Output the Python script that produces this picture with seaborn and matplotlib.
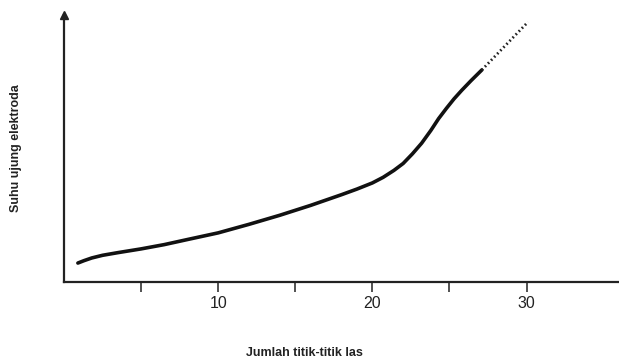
import matplotlib
matplotlib.use("Agg")
import matplotlib.pyplot as plt
import seaborn as sns
import pandas as pd

# Data (arbitrary temperature units, 0-100)
welds_solid = [0.9, 1.3, 1.8, 2.5, 3.5, 5, 6.5, 8, 10, 12, 14, 16, 18, 19, 20,
               20.7, 21.4, 22.0, 22.6, 23.2, 23.8, 24.3, 24.8, 25.3, 25.8, 26.4, 27.1]
temp_solid = [7.1, 8.0, 9.0, 10.0, 11.0, 12.4, 14.0, 15.9, 18.4, 21.6, 25.0, 28.7, 32.7, 34.8, 37.1,
              39.2, 41.8, 44.4, 48.0, 52.0, 56.8, 61.2, 65.0, 68.6, 71.8, 75.4, 79.4]
welds_dotted = [27.1, 30.1]
temp_dotted = [79.4, 97.4]
major_ticks = [10, 20, 30]
minor_ticks = [5, 15, 25]
xlabel = "Jumlah titik-titik las"
ylabel = "Suhu ujung elektroda"

sns.set_theme(style="white")
plt.rcParams["font.family"] = ["Liberation Sans", "DejaVu Sans"]

fig = plt.figure(figsize=(6.19, 3.62), dpi=100)
ax = fig.add_axes([64 / 619, 80 / 362, 555 / 619, 267 / 362])

df_s = pd.DataFrame({"x": welds_solid, "y": temp_solid})
df_d = pd.DataFrame({"x": welds_dotted, "y": temp_dotted})
sns.lineplot(data=df_s, x="x", y="y", ax=ax, color="#111111", linewidth=2.6,
             estimator=None, sort=False, solid_capstyle="round", solid_joinstyle="round")
sns.lineplot(data=df_d, x="x", y="y", ax=ax, color="#222222", linewidth=2.0,
             linestyle=(0, (0.6, 1.0)), estimator=None, sort=False)

ax.set_xlim(0, 36)
ax.set_ylim(0, 100)
sns.despine(ax=ax)
for s in ("left", "bottom"):
    ax.spines[s].set_color("#222222")
    ax.spines[s].set_linewidth(1.6)

ax.set_xticks(major_ticks)
ax.set_xticklabels([str(t) for t in major_ticks], fontsize=11.5, color="#222222")
ax.set_xticks(minor_ticks, minor=True)
ax.tick_params(axis="x", which="both", direction="out", length=7, width=1.2,
               color="#333333", bottom=True, pad=3)
ax.set_yticks([])

# arrow head on y axis
ax.plot([0], [1.0], marker="^", markersize=6, color="#222222",
        transform=ax.transAxes, clip_on=False)

ax.set_xlabel(xlabel, fontsize=9, fontweight="bold", color="#222222")
ax.xaxis.set_label_coords(0.434, -0.245)
ax.set_ylabel(ylabel, fontsize=9, fontweight="bold", color="#222222")
ax.yaxis.set_label_coords(-0.076, 0.5)

fig.savefig("out.png", dpi=100)
